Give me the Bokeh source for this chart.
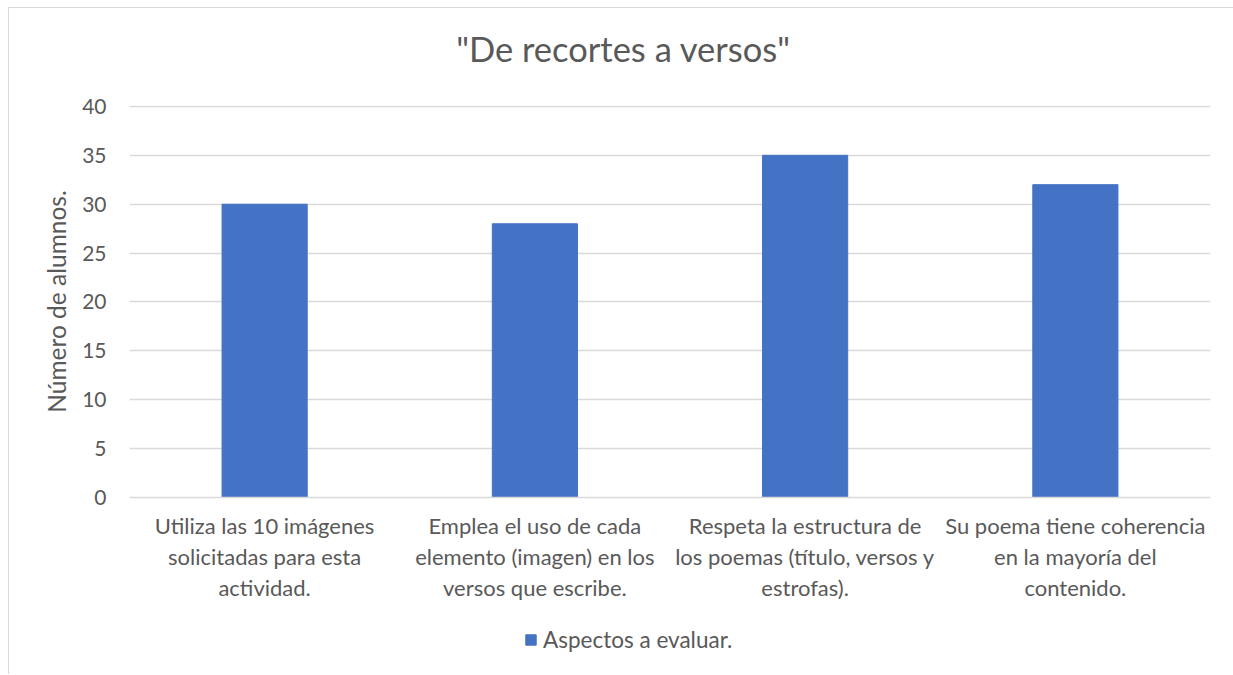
from bokeh.plotting import figure
from bokeh.models import Legend, LegendItem, Range1d, FixedTicker, Label
from bokeh.layouts import column
from bokeh.embed import file_html
from bokeh.resources import INLINE

categories = [
    "Utiliza las 10 imágenes\nsolicitadas para esta\nactividad.",
    "Emplea el uso de cada\nelemento (imagen) en los\nversos que escribe.",
    "Respeta la estructura de\nlos poemas (título, versos y\nestrofas).",
    "Su poema tiene coherencia\nen la mayoría del\ncontenido.",
]
values = [30, 28, 35, 32]
series_name = "Aspectos a evaluar."
title_text = '"De recortes a versos"'
y_label = "Número de alumnos."
y_ticks = [0, 5, 10, 15, 20, 25, 30, 35, 40]

FONT = "Lato"
TXT = "#595959"
BAR = "#4472C4"

W = 1224
H0 = 83    # title strip
TOP = 14   # room above the chart frame for the top tick label
H1 = 502 + TOP   # chart
H2 = 67    # legend strip


def strip(h):
    f = figure(x_range=categories, y_range=Range1d(100, 200), width=W, height=h,
               output_backend="svg", toolbar_location=None,
               min_border_left=0, min_border_right=0, min_border_top=0, min_border_bottom=0)
    f.axis.visible = False
    f.grid.visible = False
    f.outline_line_color = None
    return f


# title strip
t = strip(H0)
t.add_layout(Label(x=494, y=43, x_units="screen", y_units="screen", text=title_text,
                   text_align="center", text_baseline="alphabetic",
                   text_font=FONT, text_font_size="34.5px", text_color=TXT))

# main chart
p = figure(x_range=categories, y_range=Range1d(0, 40.1), width=W, height=H1,
           output_backend="svg", toolbar_location=None,
           min_border_left=120, min_border_right=23, min_border_top=TOP, min_border_bottom=H1 - TOP - 392)

r = p.vbar(x=categories, top=values, width=0.315, color=BAR, line_color=BAR)

p.outline_line_color = None
p.xgrid.grid_line_color = None
p.ygrid.grid_line_color = "#d9d9d9"
p.ygrid.grid_line_width = 1.3
p.yaxis.ticker = FixedTicker(ticks=y_ticks)

for ax in (p.xaxis[0], p.yaxis[0]):
    ax.major_tick_line_color = None
    ax.minor_tick_line_color = None
    ax.major_label_text_font = FONT
    ax.major_label_text_color = TXT
    ax.axis_label_text_font = FONT
    ax.axis_label_text_color = TXT

p.yaxis.major_label_text_font_size = "21px"
p.yaxis.axis_line_color = None
p.yaxis.major_label_standoff = 17
p.yaxis.axis_label = y_label
p.yaxis.axis_label_text_font_size = "24.5px"
p.yaxis.axis_label_text_font_style = "normal"
p.yaxis.axis_label_standoff = 8

p.xaxis.major_label_text_font_size = "22px"
p.xaxis.axis_line_color = "#d9d9d9"
p.xaxis.axis_line_width = 1.3
p.xaxis.major_label_standoff = 8
p.xaxis.major_label_text_line_height = 1.15

# legend strip below the chart
q = strip(H2)
rq = q.vbar(x=categories, top=values, width=0.315, color=BAR, line_color=BAR)
legend = Legend(items=[LegendItem(label=series_name, renderers=[rq])],
                orientation="horizontal", location=(395, 21),
                label_text_font=FONT, label_text_font_size="22.5px", label_text_color=TXT,
                glyph_width=13, glyph_height=13, label_standoff=6,
                border_line_color=None, background_fill_alpha=0, margin=0, padding=0)
q.add_layout(legend, "center")

layout = column(t, p, q, spacing=0,
                styles={"margin-left": "8px", "margin-top": "7px",
                        "border-top": "1px solid #d9d9d9", "border-left": "1px solid #d9d9d9"})

open("out.html", "w").write(file_html(layout, INLINE))
